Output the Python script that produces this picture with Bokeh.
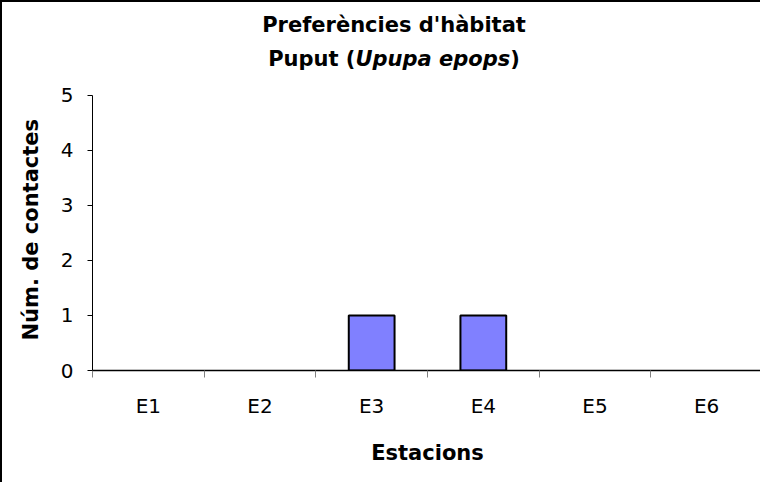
from bokeh.plotting import figure
from bokeh.models import Range1d, FixedTicker, Label, Title
from bokeh.embed import file_html
from bokeh.resources import INLINE

# ---- data ----
stations = ["E1", "E2", "E3", "E4", "E5", "E6"]
contacts = [0, 0, 1, 1, 0, 0]
y_ticks = [0, 1, 2, 3, 4, 5]
title_line1 = "Preferències d'hàbitat"
title_line2_parts = ["Puput (", "Upupa epops", ")"]
x_label = "Estacions"
y_label = "Núm. de contactes"

FONT = "DejaVu Sans"

W, H = 760, 482
FRAME_H = 368          # frame spans from canvas top down to the x axis
AXIS_H = 275.3         # pixel height of the 0..5 axis
y_end = y_ticks[-1] * FRAME_H / AXIS_H   # extra room above for the title

p = figure(width=W, height=H, output_backend="svg", toolbar_location=None,
           x_range=Range1d(0, len(stations)), y_range=Range1d(y_ticks[0], y_end),
           min_border_left=90, min_border_right=0, min_border_top=0,
           min_border_bottom=H - FRAME_H)
p.styles = {"border-left": "2px solid black", "border-top": "2px solid black"}
p.outline_line_color = None
p.xgrid.grid_line_color = None
p.ygrid.grid_line_color = None
p.background_fill_color = "white"
p.border_fill_color = "white"

# bars (only non-zero counts are visible)
xs = [i + 0.5 for i, v in enumerate(contacts) if v > 0]
tops = [v for v in contacts if v > 0]
p.vbar(x=xs, top=tops, bottom=0, width=0.41, fill_color="#8080FF",
       line_color="black", line_width=2)

# x axis: labels centred on categories, ticks at category boundaries
xa = p.xaxis[0]
xa.ticker = FixedTicker(ticks=[i + 0.5 for i in range(len(stations))],
                        minor_ticks=list(range(len(stations) + 1)))
xa.major_label_overrides = {i + 0.5: s for i, s in enumerate(stations)}
xa.major_tick_line_color = None
xa.major_tick_out = 0
xa.major_tick_in = 0
xa.minor_tick_out = 7
xa.minor_tick_in = 0
xa.minor_tick_line_color = "#808080"
xa.minor_tick_line_width = 1
xa.axis_line_color = "black"
xa.axis_line_width = 1.5
xa.major_label_text_font = FONT
xa.major_label_text_font_size = "20px"
xa.major_label_text_color = "black"
xa.major_label_standoff = 16
xa.axis_label = x_label
xa.axis_label_text_font = FONT
xa.axis_label_text_font_style = "bold"
xa.axis_label_text_font_size = "21px"
xa.axis_label_text_color = "black"
xa.axis_label_standoff = 20

ya = p.yaxis[0]
ya.bounds = (y_ticks[0], y_ticks[-1])
ya.ticker = FixedTicker(ticks=y_ticks, minor_ticks=[])
ya.major_tick_out = 5
ya.major_tick_in = 0
ya.major_tick_line_color = "black"
ya.minor_tick_line_color = None
ya.axis_line_color = "black"
ya.axis_line_width = 1
ya.major_label_text_font = FONT
ya.major_label_text_font_size = "20px"
ya.major_label_text_color = "black"
ya.major_label_standoff = 14

# y-axis title: starts 30px above the x axis, running upwards
p.add_layout(Title(text=y_label, align="left", offset=30, standoff=26,
                   vertical_align="top",
                   text_font=FONT, text_font_style="bold", text_font_size="21px",
                   text_color="black"), "left")

# chart title (two lines, second mixes bold and bold italic), inside the frame's top area
TS = 21
cx = 301.5
p.add_layout(Label(x=cx, y=FRAME_H - 22, x_units="screen", y_units="screen", text=title_line1,
                   text_font=FONT, text_font_style="bold", text_font_size=f"{TS}px",
                   text_align="center", text_baseline="alphabetic", text_color="black"))
em_widths = [4.156, 7.371, 0.457]
styles = ["bold", "bold italic", "bold"]
total = sum(em_widths) * TS
x0 = cx - total / 2
for part, w, st in zip(title_line2_parts, em_widths, styles):
    p.add_layout(Label(x=x0, y=FRAME_H - 56, x_units="screen", y_units="screen", text=part,
                       text_font=FONT, text_font_style=st, text_font_size=f"{TS}px",
                       text_align="left", text_baseline="alphabetic", text_color="black"))
    x0 += w * TS

open("out.html", "w").write(file_html(p, INLINE))
